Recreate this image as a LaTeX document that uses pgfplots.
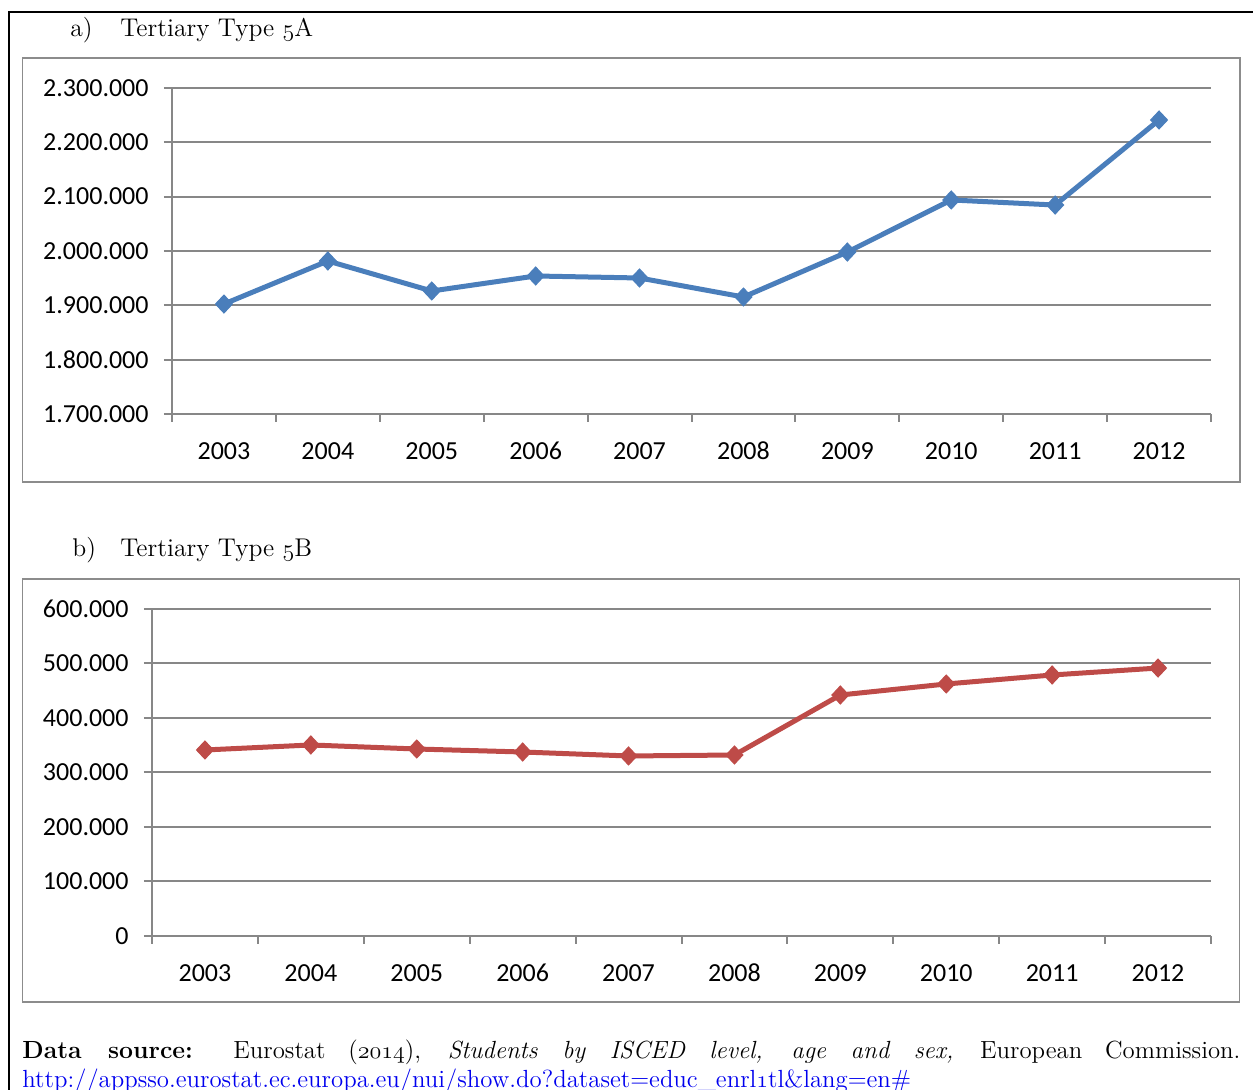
\documentclass[border=0pt]{standalone}
\usepackage{fontspec}
\usepackage{pgfplots}
\pgfplotsset{compat=1.18}
\newfontfamily\carlito{Carlito}
\newcommand\osn[1]{\ensuremath{\mathnormal{#1}}}
\definecolor{gridgray}{HTML}{878787}
\definecolor{boxgray}{HTML}{8C8C8C}
\definecolor{serA}{HTML}{4A7EBB}
\definecolor{serB}{HTML}{BE4B48}
\definecolor{linkblue}{HTML}{0000EE}

\pgfplotsset{
  excel/.style={
    scale only axis,
    axis x line*=bottom, axis y line*=left,
    axis line style={gridgray, line width=1pt},
    xmin=-0.5, xmax=9.5,
    xtick={0,1,2,3,4,5,6,7,8,9},
    xticklabels={2003,2004,2005,2006,2007,2008,2009,2010,2011,2012},
    minor xtick={-0.5,0.5,1.5,2.5,3.5,4.5,5.5,6.5,7.5,8.5,9.5},
    major x tick style={draw=none},
    minor x tick style={gridgray, line width=1pt},
    major y tick style={gridgray, line width=1pt},
    tick align=outside,
    major tick length=4pt,
    minor tick length=4pt,
    ymajorgrids,
    major grid style={gridgray, line width=1pt},
    scaled y ticks=false,
    tick label style={font=\carlito\fontsize{13}{15}\selectfont},
    yticklabel style={anchor=east, inner sep=0pt, xshift=-7.5pt},
    xticklabel style={anchor=base, inner sep=0pt, yshift=-19pt},
    clip=false,
  }
}

\begin{document}
\begin{tikzpicture}
\clip (0,0) rectangle (626.5pt,545pt);
\draw[line width=1.2pt] (4.5pt,-2pt) -- (4.5pt,539pt) -- (630pt,539pt);
\draw[boxgray, line width=0.75pt] (11.25pt,304pt) rectangle (620pt,516pt);
\draw[boxgray, line width=0.75pt] (11.25pt,44pt) rectangle (619.75pt,255.5pt);

\node[anchor=base west, inner sep=0pt, font=\fontsize{12.8}{15}\selectfont] at (35pt,526.5pt) {a)};
\node[anchor=base west, inner sep=0pt, font=\fontsize{12.8}{15}\selectfont] at (60pt,526.5pt) {Tertiary Type \osn{5}A};
\node[anchor=base west, inner sep=0pt, font=\fontsize{12.8}{15}\selectfont] at (36pt,266.5pt) {b)};
\node[anchor=base west, inner sep=0pt, font=\fontsize{12.8}{15}\selectfont] at (60pt,266.5pt) {Tertiary Type \osn{5}B};

\begin{axis}[excel, at={(86pt,338pt)}, anchor=south west, width=519.5pt, height=163pt,
  ymin=1700000, ymax=2300000,
  ytick={1700000,1800000,1900000,2000000,2100000,2200000,2300000},
  yticklabels={1.700.000,1.800.000,1.900.000,2.000.000,2.100.000,2.200.000,2.300.000}]
\addplot[serA, line width=2.5pt, mark=diamond*, mark size=4.5pt, mark options={solid, fill=serA, line width=0.5pt, xscale=1.25}]
  coordinates {(0,1902400) (1,1981600) (2,1926400) (3,1954000) (4,1950300) (5,1915300) (6,1998100) (7,2093900) (8,2084600) (9,2241100)};
\end{axis}

\begin{axis}[excel, at={(76pt,77pt)}, anchor=south west, width=529.5pt, height=163.5pt,
  ymin=0, ymax=600000,
  ytick={0,100000,200000,300000,400000,500000,600000},
  yticklabels={0,100.000,200.000,300.000,400.000,500.000,600.000}]
\addplot[serB, line width=2.5pt, mark=diamond*, mark size=4.5pt, mark options={solid, fill=serB, line width=0.5pt, xscale=1.25}]
  coordinates {(0,341300) (1,350500) (2,343100) (3,337600) (4,330300) (5,332100) (6,442200) (7,462400) (8,478900) (9,491700)};
\end{axis}

\node[anchor=north west, inner sep=0pt, text width=609pt, align=justify, font=\fontsize{12.4}{14.5}\selectfont] at (11pt,25.3pt)
  {\textbf{Data source:} Eurostat (\osn{2014}), \textit{Students by ISCED level, age and sex,} European Commission.\linebreak
   \textcolor{linkblue}{\underline{http://appsso.eurostat.ec.europa.eu/nui/show.do?dataset=educ\_enrl\osn{1}tl\&lang=en\#}}};
\end{tikzpicture}
\end{document}
